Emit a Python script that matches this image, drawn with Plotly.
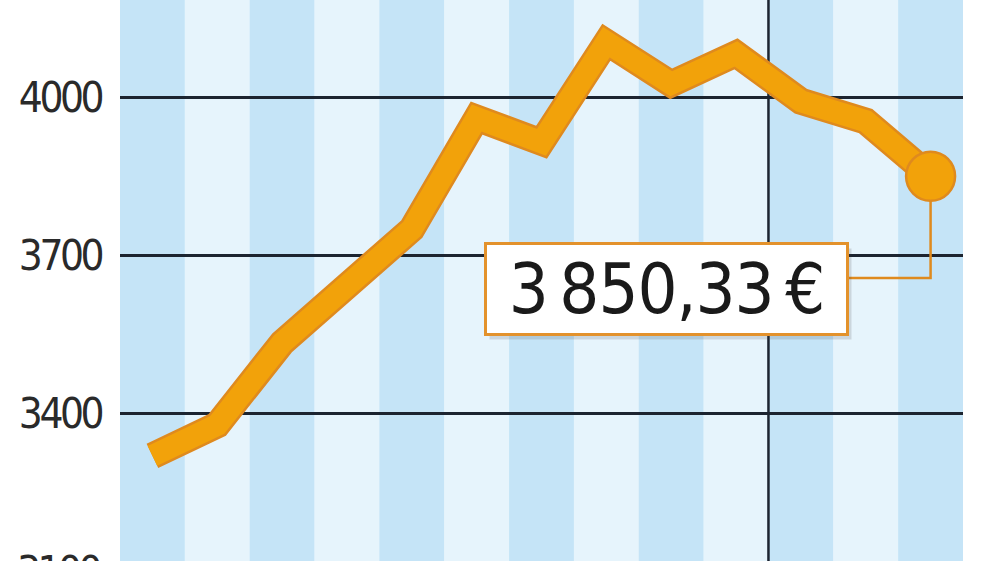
import plotly.graph_objects as go

# ---- data ----
periods = list(range(13))
values = [3319, 3378, 3534, 3640, 3750, 3961, 3915, 4105, 4026, 4083, 3993, 3955, 3850.33]
tick_vals = [3400, 3700, 4000]
tick_text = ["3400", "3700", "4000"]
extra_tick = 3100
last_label = "3\u2009850,33\u2009€"

# ---- styles ----
Y_MIN, Y_MAX = 3119.3, 4185.3
DARK = "#c5e4f7"
LIGHT = "#e6f4fc"
GRID = "#1c2430"
ORANGE = "#f2a20a"
ORANGE_EDGE = "#df8a1e"
FONT = "DejaVu Sans Condensed, DejaVu Sans, sans-serif"
TICK_LS = "letter-spacing:-3.5px"
BOX_LS = "letter-spacing:-1px"


def squeeze(txt, style):
    return f"<span style='{style}'>{txt}</span>"


fig = go.Figure()

# connector from last point to the value box
conn_y = 3657
fig.add_trace(go.Scatter(
    x=[periods[-1], periods[-1], periods[-1] - 1.5],
    y=[values[-1], conn_y, conn_y],
    mode="lines", line=dict(color=ORANGE_EDGE, width=2.5),
    hoverinfo="skip", showlegend=False))

# outline of the thick line
fig.add_trace(go.Scatter(
    x=periods, y=values, mode="lines",
    line=dict(color=ORANGE_EDGE, width=27),
    hoverinfo="skip", showlegend=False))
# fill of the thick line
fig.add_trace(go.Scatter(
    x=periods, y=values, mode="lines",
    line=dict(color=ORANGE, width=22),
    hoverinfo="skip", showlegend=False))
# end point
fig.add_trace(go.Scatter(
    x=[periods[-1]], y=[values[-1]], mode="markers",
    marker=dict(size=49, color=ORANGE, line=dict(color=ORANGE_EDGE, width=2.5)),
    hoverinfo="skip", showlegend=False))

# background stripes
shapes = []
for i, p in enumerate(periods):
    shapes.append(dict(type="rect", xref="x", yref="paper",
                       x0=p - 0.5, x1=p + 0.5, y0=0, y1=1,
                       fillcolor=DARK if i % 2 == 0 else LIGHT,
                       line=dict(width=0), layer="below"))
# year separator
shapes.append(dict(type="line", xref="x", yref="paper",
                   x0=periods[9] + 0.5, x1=periods[9] + 0.5, y0=0, y1=1,
                   line=dict(color=GRID, width=2.5), layer="between"))

box_x = 7.92
box_y = 3636
annotations = [
    # shadow
    dict(x=box_x, y=box_y, xref="x", yref="y", text=" ", showarrow=False,
         xanchor="center", yanchor="middle", width=359, height=88,
         bgcolor="rgba(60,60,60,0.16)", borderwidth=3, bordercolor="rgba(0,0,0,0)",
         borderpad=0, xshift=4, yshift=-5, font=dict(size=10)),
    dict(x=box_x, y=box_y, xref="x", yref="y", text=squeeze(last_label, BOX_LS),
         showarrow=False,
         xanchor="center", yanchor="middle", width=359, height=88,
         bgcolor="white", bordercolor="#e3922c", borderwidth=3, borderpad=0,
         font=dict(family=FONT, size=70, color="#1a1a1a")),
    # partially visible bottom label
    dict(x=0, y=(extra_tick - Y_MIN) / (Y_MAX - Y_MIN), xref="paper", yref="paper",
         text=squeeze(str(extra_tick), TICK_LS), showarrow=False,
         xanchor="right", yanchor="middle",
         xshift=-17, font=dict(family=FONT, size=42, color="#2a2a2a")),
]

fig.update_layout(
    width=1000, height=561,
    margin=dict(l=120, r=37, t=0, b=0),
    paper_bgcolor="white", plot_bgcolor=LIGHT,
    shapes=shapes, annotations=annotations,
    xaxis=dict(range=[-0.5, 12.5], showgrid=False, zeroline=False,
               showticklabels=False, ticks="", fixedrange=True),
    yaxis=dict(range=[Y_MIN, Y_MAX], tickvals=tick_vals,
               ticktext=[squeeze(t, TICK_LS) for t in tick_text],
               showgrid=True, gridcolor=GRID, gridwidth=2.5, zeroline=False,
               ticks="", ticklabelstandoff=18,
               tickfont=dict(family=FONT, size=42, color="#2a2a2a")),
    showlegend=False,
)

fig.write_html("out.html", config={"displayModeBar": False},
               post_script="document.body.style.margin='0px';")
